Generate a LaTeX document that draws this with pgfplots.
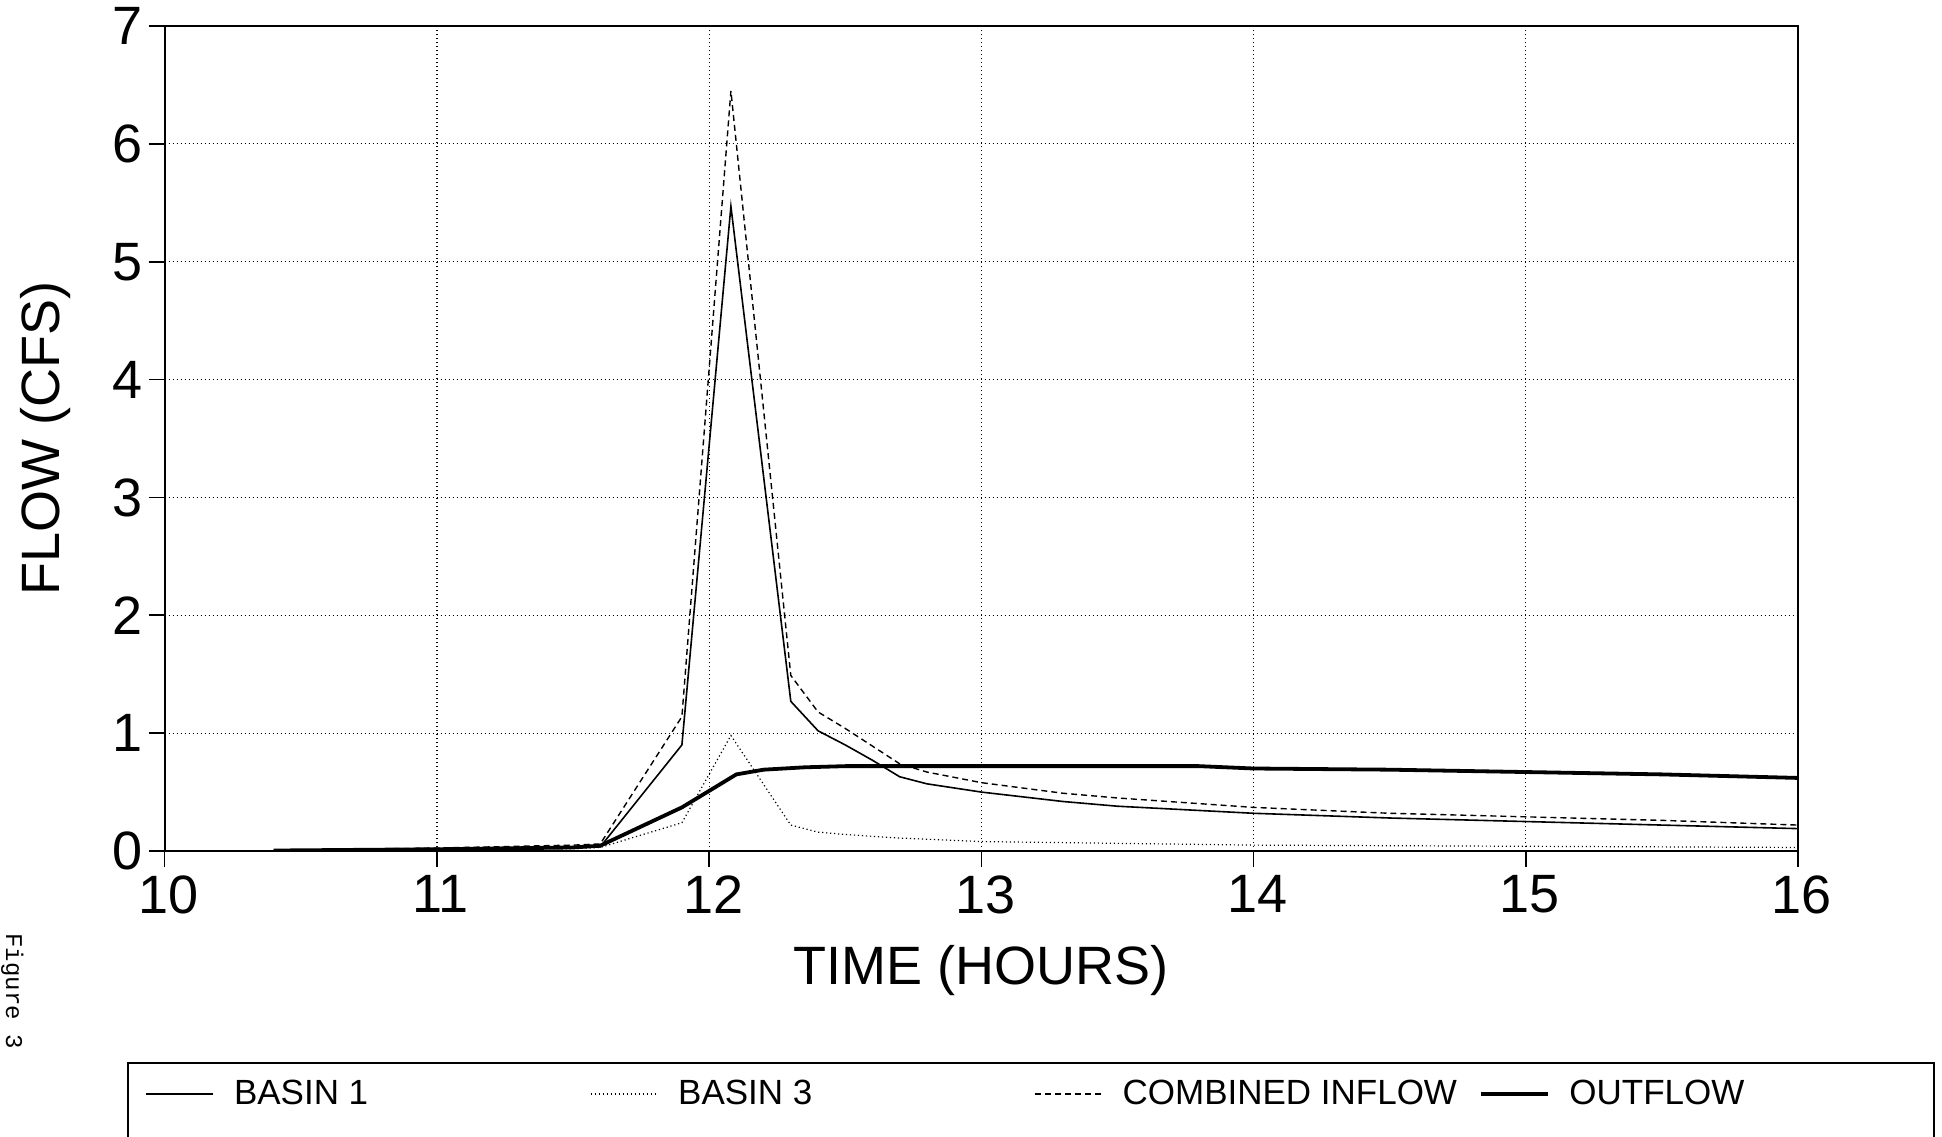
\documentclass[border=0pt]{standalone}
\usepackage{fontspec}
\setmainfont{Liberation Sans}
\newfontfamily\figfont{Liberation Mono}
\usepackage{pgfplots}
\pgfplotsset{compat=1.18}
\begin{document}
\begin{tikzpicture}
\useasboundingbox (0pt,0pt) rectangle (971pt,568pt);
\begin{axis}[
  at={(82.35pt,142.5pt)}, anchor=south west,
  scale only axis, width=816.65pt, height=412.5pt,
  xmin=10, xmax=16, ymin=0, ymax=7,
  xtick={10,11,...,16}, ytick={0,1,...,7},
  xtick pos=bottom, ytick pos=left,
  tick align=outside, major tick length=8pt,
  tick style={black, line width=0.8pt},
  axis line style={black, line width=1pt},
  grid=major,
  major grid style={black, line width=0.6pt, dash pattern=on 0.6pt off 1.4pt},
  /pgf/number format/assume math mode=true,
  ticklabel style={font=\fontsize{27}{32}\selectfont, inner sep=1pt},
  xticklabel style={yshift=-3pt, xshift=2pt},
  yticklabel style={xshift=-2pt},
  xlabel={TIME (HOURS)}, ylabel={FLOW (CFS)},
  label style={font=\fontsize{27}{32}\selectfont},
  xlabel style={at={(axis description cs:0.5,-0.1624)}, anchor=base},
  ylabel style={at={(axis description cs:-0.0647,0.5)}, anchor=base},
  legend columns=4,
  legend style={at={(axis description cs:-0.01206,-0.2946)}, anchor=west,
    draw=none, fill=none, inner sep=0pt,
    font=\fontsize{17.5}{21}\selectfont,
    nodes={inner sep=0pt},
    /tikz/every odd column/.append style={column sep=10pt},
    /tikz/every even column/.append style={column sep=3pt}},
  legend image code/.code={\draw[#1] (0pt,0pt) -- (33.5pt,0pt);},
]
% BASIN 1
\addplot[black, line width=0.8pt] table {
x y
10.4 0.003
11.0 0.015
11.5 0.03
11.6 0.035
11.9 0.90
12.08 5.47
12.3 1.27
12.4 1.02
12.5 0.90
12.6 0.77
12.7 0.63
12.8 0.57
13.0 0.50
13.3 0.42
13.5 0.38
14.0 0.32
14.5 0.28
15.0 0.25
15.5 0.22
16.0 0.19
};
\addlegendentry{\makebox[175pt][l]{BASIN 1}}
% BASIN 3
\addplot[black, line width=0.6pt, dash pattern=on 0.6pt off 1.4pt] table {
x y
10.4 0.002
11.0 0.01
11.5 0.02
11.6 0.03
11.9 0.24
12.08 0.98
12.3 0.22
12.4 0.16
12.5 0.14
12.7 0.11
13.0 0.08
13.5 0.065
14.0 0.05
15.0 0.04
16.0 0.03
};
\addlegendentry{\makebox[175pt][l]{BASIN 3}}
% COMBINED INFLOW
\addplot[black, line width=0.7pt, dash pattern=on 3pt off 2pt] table {
x y
10.4 0.005
11.0 0.025
11.5 0.05
11.6 0.06
11.9 1.14
12.08 6.45
12.3 1.49
12.4 1.18
12.5 1.04
12.6 0.89
12.7 0.74
12.8 0.67
13.0 0.58
13.3 0.49
13.5 0.45
14.0 0.37
14.5 0.32
15.0 0.29
15.5 0.26
16.0 0.22
};
\addlegendentry{\makebox[175pt][l]{COMBINED INFLOW}}
% OUTFLOW
\addplot[black, line width=1.9pt] table {
x y
10.4 0.004
11.0 0.015
11.5 0.03
11.6 0.045
11.9 0.37
12.0 0.51
12.1 0.65
12.2 0.69
12.35 0.71
12.5 0.72
13.0 0.72
13.5 0.72
13.8 0.72
14.0 0.70
14.5 0.69
15.0 0.67
15.5 0.65
16.0 0.62
};
\addlegendentry{\makebox[175pt][l]{OUTFLOW}}
\end{axis}
\draw[line width=0.7pt] (64pt,36.5pt) rectangle (967pt,-20pt);
\node[rotate=-90, anchor=base west, inner sep=0pt, font=\figfont\fontsize{12}{14}\selectfont] at (3pt,101.5pt) {Figure 3};
\end{tikzpicture}
\end{document}
